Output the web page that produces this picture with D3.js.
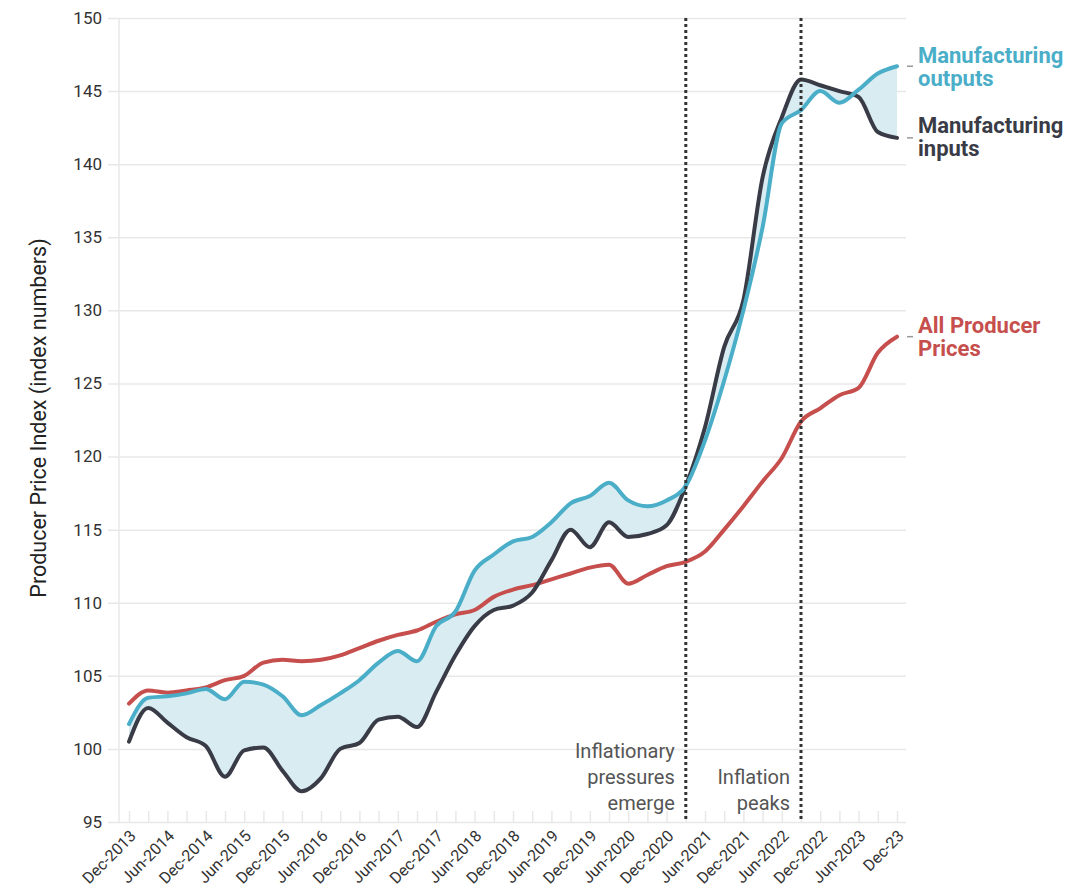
<!DOCTYPE html>
<html>
<head>
<meta charset="utf-8">
<script src="https://cdn.jsdelivr.net/npm/d3@7"></script>
<style>
    body { margin: 0; background: #fff; }
    svg { display: block; font-family: Roboto, "Noto Sans", sans-serif; }
</style>
</head>
<body>
<div id="chart"></div>
<script>
// Quarterly series, Dec-2013 .. Dec-2023 (41 points)
var inputs = [100.5, 102.8, 101.8, 100.8, 100.2, 98.1, 99.9, 100.1, 98.5, 97.1,
    98.0, 100.0, 100.4, 102.0, 102.2, 101.5, 103.9, 106.4, 108.4, 109.5,
    109.8, 110.7, 112.9, 115.0, 113.8, 115.5, 114.5, 114.7, 115.3, 118.0,
    122.0, 127.5, 130.7, 139.1, 143.2, 145.8, 145.4, 145.0, 144.6, 142.2, 141.8];
var outputs = [101.7, 103.5, 103.6, 103.8, 104.1, 103.4, 104.6, 104.4, 103.6, 102.3,
    103.0, 103.8, 104.7, 105.9, 106.7, 106.0, 108.4, 109.4, 112.2, 113.3,
    114.2, 114.5, 115.5, 116.8, 117.3, 118.2, 117.0, 116.6, 117.0, 118.0,
    121.1, 125.2, 130.0, 135.7, 142.8, 143.7, 145.0, 144.2, 145.1, 146.2, 146.7];
var allPrices = [103.1, 104.0, 103.85, 104.0, 104.2, 104.7, 105.0, 105.9, 106.1, 106.0,
    106.1, 106.4, 106.9, 107.4, 107.8, 108.1, 108.7, 109.2, 109.5, 110.4,
    110.9, 111.2, 111.6, 112.0, 112.4, 112.6, 111.3, 111.9, 112.5, 112.8,
    113.5, 115.0, 116.6, 118.3, 119.9, 122.4, 123.3, 124.2, 124.7, 127.1, 128.2];

// One label every second quarter
var tickLabels = ["Dec-2013", "Jun-2014", "Dec-2014", "Jun-2015", "Dec-2015", "Jun-2016",
    "Dec-2016", "Jun-2017", "Dec-2017", "Jun-2018", "Dec-2018", "Jun-2019", "Dec-2019",
    "Jun-2020", "Dec-2020", "Jun-2021", "Dec-2021", "Jun-2022", "Dec-2022", "Jun-2023", "Dec-23"];
var yTicks = [95, 100, 105, 110, 115, 120, 125, 130, 135, 140, 145, 150];

// Event markers (quarter index) and their notes
var events = [29, 35];
var eventNotes = [["Inflationary", "pressures", "emerge"], ["Inflation", "peaks"]];

var seriesLabels = [
    {lines: ["Manufacturing", "outputs"], color: "#4aaec8", values: outputs, y: 63},
    {lines: ["Manufacturing", "inputs"], color: "#393c46", values: inputs, y: 133},
    {lines: ["All Producer", "Prices"], color: "#c64f4d", values: allPrices, y: 333}
];

var width = 1081, height = 889;
var BLUE = "#4aaec8", DARK = "#393c46", RED = "#c64f4d", FILL = "#d9ecf2", GRID = "#e8e8e8";

var svg = d3.select("#chart").append("svg")
    .attr("width", width)
    .attr("height", height);

var x = d3.scaleLinear().domain([0, inputs.length - 1]).range([129, 897]);
var y = d3.scaleLinear().domain([95, 150]).range([822, 18]);

// Horizontal grid + y tick labels
var yAxis = svg.append("g")
    .attr("transform", "translate(906,0)")
    .call(d3.axisLeft(y).tickValues(yTicks).tickSize(798).tickPadding(6));
yAxis.select(".domain").remove();
yAxis.selectAll("line").attr("stroke", GRID).attr("stroke-width", 1.5);
yAxis.selectAll("text")
    .attr("fill", "#333")
    .style("font-size", "17px")
    .style("font-family", "Roboto");

// Vertical axis line
svg.append("line")
    .attr("x1", 119).attr("x2", 119)
    .attr("y1", y(150)).attr("y2", y(95))
    .attr("stroke", GRID).attr("stroke-width", 1.5);

// Quarterly ticks on x axis (pointing up)
var xAxis = svg.append("g")
    .attr("transform", "translate(0," + y(95) + ")")
    .call(d3.axisBottom(x).tickValues(d3.range(inputs.length)).tickSize(-11).tickFormat(""));
xAxis.select(".domain").remove();
xAxis.selectAll("line").attr("stroke", GRID).attr("stroke-width", 1.5);

// x tick labels, rotated
svg.append("g")
    .selectAll("text")
    .data(tickLabels)
    .enter().append("text")
        .attr("transform", function(d, i) { return "translate(" + (x(i * 2) + 4) + ",833) rotate(-45)"; })
        .attr("text-anchor", "end")
        .attr("dy", "0.35em")
        .attr("fill", "#333")
        .style("font-size", "16px")
        .text(function(d) { return d; });

// Y axis title
svg.append("text")
    .attr("transform", "translate(46,418) rotate(-90)")
    .attr("text-anchor", "middle")
    .attr("fill", "#222")
    .style("font-size", "21.5px")
    .text("Producer Price Index (index numbers)");

// Shaded gap between outputs and inputs
var area = d3.area()
    .x(function(d, i) { return x(i); })
    .y0(function(d, i) { return y(inputs[i]); })
    .y1(function(d) { return y(d); })
    .curve(d3.curveMonotoneX);
svg.append("path")
    .datum(outputs)
    .attr("d", area)
    .attr("fill", FILL);

var line = d3.line()
    .x(function(d, i) { return x(i); })
    .y(function(d) { return y(d); })
    .curve(d3.curveMonotoneX);

[[allPrices, RED], [inputs, DARK], [outputs, BLUE]].forEach(function(s) {
    svg.append("path")
        .datum(s[0])
        .attr("d", line)
        .attr("fill", "none")
        .attr("stroke", s[1])
        .attr("stroke-width", 4)
        .attr("stroke-linejoin", "round")
        .attr("stroke-linecap", "round");
});

// Dotted event lines + notes
events.forEach(function(q, k) {
    svg.append("line")
        .attr("x1", x(q)).attr("x2", x(q))
        .attr("y1", y(150)).attr("y2", y(95))
        .attr("stroke", "#333")
        .attr("stroke-width", 3)
        .attr("stroke-dasharray", "3,3");

    var lines = eventNotes[k];
    svg.append("g").selectAll("text")
        .data(lines)
        .enter().append("text")
            .attr("x", x(q) - 11)
            .attr("y", function(d, j) { return 810 - (lines.length - 1 - j) * 26; })
            .attr("text-anchor", "end")
            .attr("fill", "#555")
            .style("font-size", "20px")
            .text(function(d) { return d; });
});

// Right-hand series labels with small end ticks
seriesLabels.forEach(function(s) {
    var end = s.values[s.values.length - 1];
    svg.append("line")
        .attr("x1", 907).attr("x2", 913)
        .attr("y1", y(end)).attr("y2", y(end))
        .attr("stroke", "#999").attr("stroke-width", 1.5);

    svg.append("g").selectAll("text")
        .data(s.lines)
        .enter().append("text")
            .attr("x", 918)
            .attr("y", function(d, j) { return s.y + j * 23; })
            .attr("fill", s.color)
            .style("font-size", "22px")
            .style("font-weight", "bold")
            .text(function(d) { return d; });
});
</script>
</body>
</html>
